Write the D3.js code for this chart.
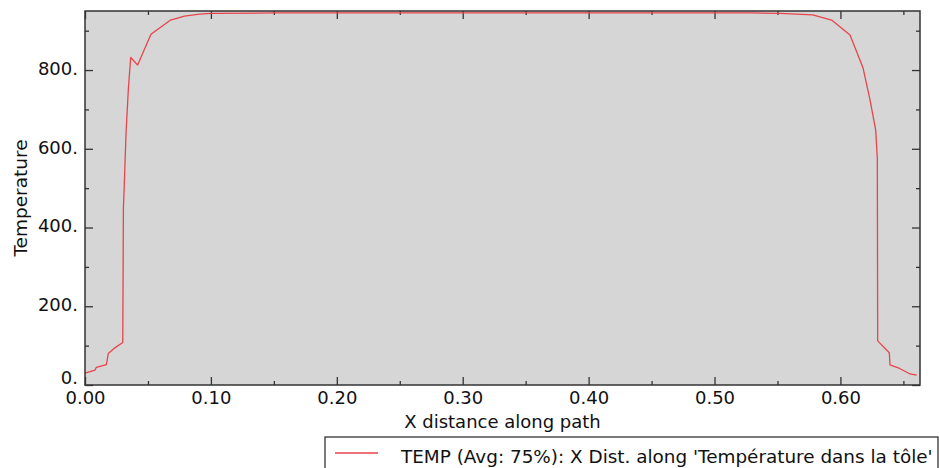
<!DOCTYPE html>
<html>
<head>
<meta charset="utf-8">
<script src="https://cdn.jsdelivr.net/npm/d3@7"></script>
<style>
  html, body { margin: 0; padding: 0; background: #ffffff; }
  svg { display: block; }
  text { font-family: "DejaVu Sans", Verdana, sans-serif; fill: #111; }
</style>
</head>
<body>
<svg id="chart" width="939" height="468"></svg>
<script>
// ---- data ----
const xDistance = [0.000, 0.008, 0.009, 0.017, 0.0185, 0.024, 0.030, 0.0305, 0.031, 0.0326, 0.0344, 0.0363, 0.0418, 0.0524, 0.068, 0.079, 0.091, 0.100, 0.150, 0.200, 0.250, 0.300, 0.350, 0.400, 0.450, 0.500, 0.530, 0.552, 0.578, 0.593, 0.6076, 0.618, 0.6235, 0.628, 0.6293, 0.6296, 0.6388, 0.6394, 0.647, 0.6553, 0.6606];
const temperature = [30, 38, 45, 52, 80, 95, 108, 450, 491, 640, 750, 832, 813, 891, 927, 937, 942, 944, 945, 945, 945, 945, 945, 945, 945, 945, 945, 944, 940, 927, 889, 805, 724, 648, 576, 112, 82, 51, 42, 28, 25];
const xTicks = [0.00, 0.10, 0.20, 0.30, 0.40, 0.50, 0.60];
const xMinorTicks = [0.05, 0.15, 0.25, 0.35, 0.45, 0.55, 0.65];
const yTicks = [0, 200, 400, 600, 800];
const yMinorTicks = [100, 300, 500, 700, 900];
const xTitle = "X distance along path";
const yTitle = "Temperature";
const legendLabel = "TEMP (Avg: 75%): X Dist. along 'Température dans la tôle'";

// ---- layout ----
const svg = d3.select("#chart");
const plot = { left: 85, right: 920, top: 11, bottom: 385 };
const x = d3.scaleLinear().domain([0, 0.6632]).range([plot.left, plot.right]);
const y = d3.scaleLinear().domain([0, 950]).range([plot.bottom, plot.top]);

svg.append("rect")
  .attr("x", plot.left).attr("y", plot.top)
  .attr("width", plot.right - plot.left).attr("height", plot.bottom - plot.top)
  .attr("fill", "#d6d6d6");

function styleAxis(g) {
  g.select(".domain").remove();
  g.selectAll("line").attr("stroke", "#333").attr("stroke-width", 1.3);
}
function styleLabels(g) {
  g.selectAll("text").attr("font-size", 18).attr("font-family", "DejaVu Sans").attr("fill", "#111");
}
const fmtX = d3.format(".2f");
const fmtY = d => d + ".";

// bottom
svg.append("g").attr("transform", `translate(0,${plot.bottom})`)
  .call(d3.axisBottom(x).tickValues(xTicks).tickSize(-8).tickPadding(6).tickFormat(fmtX))
  .call(styleAxis).call(styleLabels);
svg.append("g").attr("transform", `translate(0,${plot.bottom})`)
  .call(d3.axisBottom(x).tickValues(xMinorTicks).tickSize(-4).tickFormat(""))
  .call(styleAxis);
// top
svg.append("g").attr("transform", `translate(0,${plot.top})`)
  .call(d3.axisTop(x).tickValues(xTicks).tickSize(-8).tickFormat(""))
  .call(styleAxis);
svg.append("g").attr("transform", `translate(0,${plot.top})`)
  .call(d3.axisTop(x).tickValues(xMinorTicks).tickSize(-4).tickFormat(""))
  .call(styleAxis);
// left
svg.append("g").attr("transform", `translate(${plot.left},0)`)
  .call(d3.axisLeft(y).tickValues(yTicks).tickSize(-8).tickPadding(7).tickFormat(fmtY))
  .call(styleAxis).call(styleLabels)
  .call(g => g.selectAll("text").attr("dy", d => d === 0 ? "-0.1em" : "0.24em"));
svg.append("g").attr("transform", `translate(${plot.left},0)`)
  .call(d3.axisLeft(y).tickValues(yMinorTicks).tickSize(-4).tickFormat(""))
  .call(styleAxis);
// right
svg.append("g").attr("transform", `translate(${plot.right},0)`)
  .call(d3.axisRight(y).tickValues(yTicks).tickSize(-8).tickFormat(""))
  .call(styleAxis);
svg.append("g").attr("transform", `translate(${plot.right},0)`)
  .call(d3.axisRight(y).tickValues(yMinorTicks).tickSize(-4).tickFormat(""))
  .call(styleAxis);

// data line
const pts = xDistance.map((d, i) => [d, temperature[i]]);
svg.append("path")
  .datum(pts)
  .attr("fill", "none")
  .attr("stroke", "#e8444c")
  .attr("stroke-width", 1.3)
  .attr("stroke-linejoin", "round")
  .attr("d", d3.line().x(d => x(d[0])).y(d => y(d[1])));

// frame
svg.append("rect")
  .attr("x", plot.left).attr("y", plot.top)
  .attr("width", plot.right - plot.left).attr("height", plot.bottom - plot.top)
  .attr("fill", "none").attr("stroke", "#333").attr("stroke-width", 1.5);

// titles
svg.append("text")
  .attr("x", (plot.left + plot.right) / 2).attr("y", 428)
  .attr("text-anchor", "middle").attr("font-size", 18)
  .text(xTitle);
svg.append("text")
  .attr("transform", `translate(27,${(plot.top + plot.bottom) / 2}) rotate(-90)`)
  .attr("text-anchor", "middle").attr("font-size", 18.5)
  .text(yTitle);

// legend
const legend = svg.append("g");
legend.append("rect")
  .attr("x", 325).attr("y", 437).attr("width", 613).attr("height", 40)
  .attr("fill", "#ffffff").attr("stroke", "#333").attr("stroke-width", 1.3);
legend.append("line")
  .attr("x1", 335).attr("x2", 378).attr("y1", 453).attr("y2", 453)
  .attr("stroke", "#e8444c").attr("stroke-width", 1.3);
legend.append("text")
  .attr("x", 401).attr("y", 463).attr("font-size", 18.4)
  .text(legendLabel);
</script>
</body>
</html>
